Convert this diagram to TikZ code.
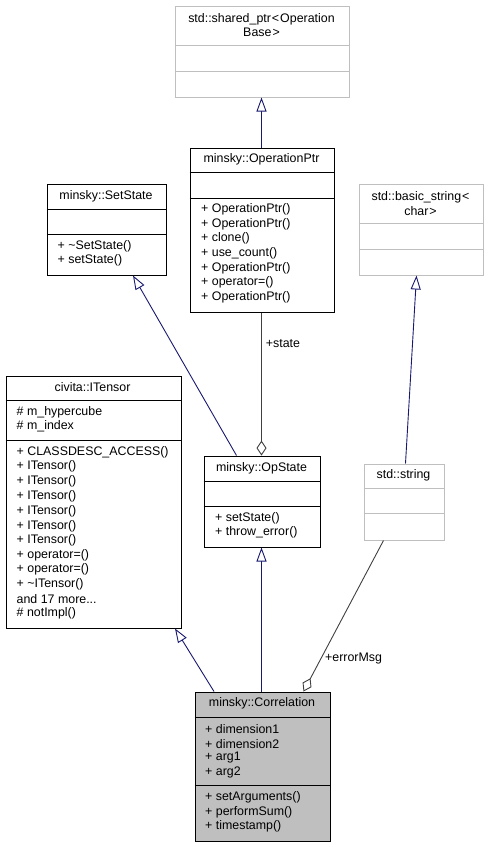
\documentclass[tikz,border=0pt]{standalone}
\usepackage{fontspec}
\setmainfont{Liberation Sans}
\usetikzlibrary{arrows.meta,calc}
\definecolor{mblue}{HTML}{191970}
\definecolor{g75}{HTML}{BFBFBF}
\definecolor{g25}{HTML}{404040}
\newcommand\fsz{\fontsize{12.4}{14.6}\selectfont}
\tikzset{
  cls/.style={draw=black, line width=1pt, fill=white, inner sep=0pt, anchor=north west},
  gcls/.style={draw=g75, line width=1pt, fill=white, inner sep=0pt, anchor=north west},
  divb/.style={draw=black, line width=1pt},
  divg/.style={draw=g75, line width=1pt},
  row/.style={font=\fsz, inner sep=0pt, anchor=west},
  ttl/.style={font=\fsz, inner sep=0pt, align=center},
  inh/.style={draw=mblue, line width=0.9pt, -{Triangle[open, length=14pt, width=10pt, fill=white]}},
  agg/.style={draw=g25, line width=0.9pt, -{Diamond[open, length=15pt, width=10pt, fill=white]}},
  lbl/.style={font=\fsz, inner sep=0pt, anchor=west}
}
\begin{document}
\begin{tikzpicture}[x=1pt,y=-1pt]
\useasboundingbox (0,0) rectangle (488,847);
% shared_ptr
\node[gcls, minimum width=174pt, minimum height=91pt] (sp) at (174.5,5.5) {};
\draw[divg] (174.5,45.5) -- (348.5,45.5);
\draw[divg] (174.5,71.5) -- (348.5,71.5);
\node[ttl] (spt) at (261.5,25.2) {std::shared\_ptr{\kern1pt}<{\kern1pt}Operation\\Base{\kern1pt}>};
% OperationPtr
\node[cls, minimum width=144pt, minimum height=164pt] (opptr) at (189.5,147.5) {};
\draw[divb] (189.5,172.5) -- (333.5,172.5);
\draw[divb] (189.5,198.5) -- (333.5,198.5);
\node[ttl] (opptrt) at (261.5,159.5) {minsky::OperationPtr};
\node[row] (op1) at (201,209.7) {+ OperationPtr()};
\node[row] (op2) at (201,224.3) {+ OperationPtr()};
\node[row] (op3) at (201,238.7) {+ clone()};
\node[row] (op4) at (201,253.7) {+ use\_count()};
\node[row] (op5) at (201,268.7) {+ OperationPtr()};
\node[row] (op6) at (201,282.7) {+ operator=()};
\node[row] (op7) at (201,297.7) {+ OperationPtr()};
% SetState
\node[cls, minimum width=119pt, minimum height=91pt] (setst) at (46.5,183.5) {};
\draw[divb] (46.5,209.5) -- (165.5,209.5);
\draw[divb] (46.5,234.5) -- (165.5,234.5);
\node[ttl] (setstt) at (106,196) {minsky::SetState};
\node[row] (ss1) at (57.5,246.7) {+ \textasciitilde SetState()};
\node[row] (ss2) at (57.5,260.3) {+ setState()};
% basic_string
\node[gcls, minimum width=124pt, minimum height=91pt] (bstr) at (358.5,183.5) {};
\draw[divg] (358.5,223.5) -- (482.5,223.5);
\draw[divg] (358.5,249.5) -- (482.5,249.5);
\node[ttl] (bstrt) at (420.5,203.5) {std::basic\_string{\kern1pt}<\\char{\kern1pt}>};
% ITensor
\node[cls, minimum width=175pt, minimum height=252pt] (itens) at (5.5,375.5) {};
\draw[divb] (5.5,400.5) -- (180.5,400.5);
\draw[divb] (5.5,440.5) -- (180.5,440.5);
\node[ttl] (itenst) at (92.5,387) {civita::ITensor};
\node[row] (it1) at (16.5,412.7) {\# m\_hypercube};
\node[row] (it2) at (16.5,426.7) {\# m\_index};
\node[row] (it3) at (16.5,452.3) {+ CLASSDESC\_ACCESS()};
\node[row] (it4) at (16.5,466.7) {+ ITensor()};
\node[row] (it5) at (16.5,481.7) {+ ITensor()};
\node[row] (it6) at (16.5,496.7) {+ ITensor()};
\node[row] (it7) at (16.5,511) {+ ITensor()};
\node[row] (it8) at (16.5,526) {+ ITensor()};
\node[row] (it9) at (16.5,540.7) {+ ITensor()};
\node[row] (it10) at (16.5,555) {+ operator=()};
\node[row] (it11) at (16.5,569.7) {+ operator=()};
\node[row] (it12) at (16.5,584.3) {+ \textasciitilde ITensor()};
\node[row] (it13) at (16.5,598.7) {and 17 more...};
\node[row] (it14) at (16.5,613.3) {\# notImpl()};
% OpState
\node[cls, minimum width=116pt, minimum height=91pt] (opst) at (203.5,455.5) {};
\draw[divb] (203.5,481.5) -- (319.5,481.5);
\draw[divb] (203.5,506.5) -- (319.5,506.5);
\node[ttl] (opstt) at (261.5,468) {minsky::OpState};
\node[row] (os1) at (215,518.7) {+ setState()};
\node[row] (os2) at (215,532.7) {+ throw\_error()};
% std::string
\node[gcls, minimum width=80pt, minimum height=76pt] (sstr) at (363.5,463.5) {};
\draw[divg] (363.5,488.5) -- (443.5,488.5);
\draw[divg] (363.5,513.5) -- (443.5,513.5);
\node[ttl] (sstrt) at (403.5,475.5) {std::string};
% Correlation
\node[cls, fill=g75, minimum width=135pt, minimum height=149pt] (corr) at (194.5,691.5) {};
\draw[divb] (194.5,717.5) -- (329.5,717.5);
\draw[divb] (194.5,785.5) -- (329.5,785.5);
\node[ttl] (corrt) at (262,703) {minsky::Correlation};
\node[row] (c1) at (205,729) {+ dimension1};
\node[row] (c2) at (205,743.7) {+ dimension2};
\node[row] (c3) at (205,758) {+ arg1};
\node[row] (c4) at (205,772.7) {+ arg2};
\node[row] (c5) at (205,797.7) {+ setArguments()};
\node[row] (c6) at (205,812.3) {+ performSum()};
\node[row] (c7) at (205,826.3) {+ timestamp()};
% edges
\draw[inh] ($(opptr.north west)+(72,0)$) -- ($(sp.south west)+(87,0)$);
\draw[inh] ($(opst.north west)+(33,0)$) -- ($(setst.south west)+(86.5,0)$);
\draw[inh] ($(sstr.north west)+(42,0)$) -- ($(bstr.south west)+(58,0)$);
\draw[inh] ($(corr.north west)+(19.5,0)$) -- ($(itens.south west)+(169.5,0)$);
\draw[inh] ($(corr.north west)+(67,0)$) -- ($(opst.south west)+(58,0)$);
\draw[agg] ($(opptr.south west)+(72,0)$) -- node[lbl, pos=0.22, xshift=4pt] (lstate) {+state} ($(opst.north west)+(58,0)$);
\draw[agg] ($(sstr.south west)+(20,0)$) -- ($(corr.north west)+(109,0)$);
\node[lbl] (lerr) at (325,659) {+errorMsg};
\end{tikzpicture}
\end{document}
